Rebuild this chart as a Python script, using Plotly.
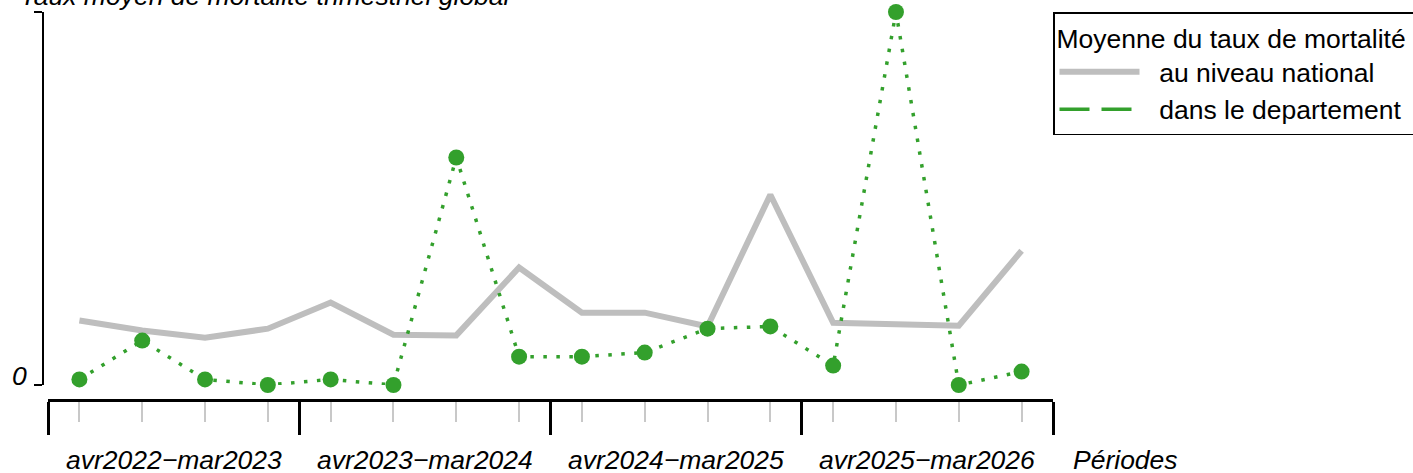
import plotly.graph_objects as go

# ---- data ----
quarters = list(range(1, 17))
periods = ["avr2022\u2212mar2023", "avr2023\u2212mar2024", "avr2024\u2212mar2025", "avr2025\u2212mar2026"]
period_centers = [2.5, 6.5, 10.5, 14.5]
national = [0.173, 0.146, 0.127, 0.151, 0.221, 0.135, 0.133, 0.315,
            0.194, 0.194, 0.157, 0.510, 0.167, 0.162, 0.159, 0.360]
departement = [0.015, 0.119, 0.015, 0.0, 0.015, 0.0, 0.610, 0.076,
               0.076, 0.087, 0.151, 0.157, 0.052, 1.0, 0.0, 0.036]
group_bounds = [0.5, 4.5, 8.5, 12.5, 16.5]

GREEN = "#33A02C"
GRAY = "#BEBEBE"
FONT = "Liberation Sans, Arial, sans-serif"
FS = 26.5
NB = "\u00a0"

W, H = 1413, 473
ML, MR, MT, MB = 43, 360, 12, 73
PW = W - ML - MR
PH = H - MT - MB

fig = go.Figure()
fig.add_trace(go.Scatter(x=quarters, y=national, mode="lines",
                         line=dict(color=GRAY, width=6),
                         name=NB * 2 + "au niveau national", cliponaxis=False))
fig.add_trace(go.Scatter(x=quarters, y=departement, mode="lines+markers",
                         line=dict(color=GREEN, width=3.5, dash="3.5px,9.5px"),
                         marker=dict(color=GREEN, size=16),
                         showlegend=False, cliponaxis=False))
fig.add_trace(go.Scatter(x=[None], y=[None], mode="lines",
                         line=dict(color=GREEN, width=3.5, dash="30px,12px"),
                         name=NB * 2 + "dans le departement"))

fig.update_layout(
    width=W, height=H,
    margin=dict(l=ML, r=MR, t=MT, b=MB, pad=0, autoexpand=False),
    plot_bgcolor="white", paper_bgcolor="white",
    font=dict(family=FONT, size=FS, color="black"),
    xaxis=dict(domain=[5 / PW, 1], range=[0.5, 16.5], anchor="free", position=0,
               showline=True, linecolor="black", linewidth=3,
               ticks="outside", tickvals=group_bounds, ticklen=33, tickwidth=3,
               tickcolor="black", showticklabels=False, showgrid=False, zeroline=False,
               minor=dict(ticks="outside", tickmode="array", tickvals=quarters,
                          ticklen=20, tickwidth=2, tickcolor="#C8C8C8", showgrid=False)),
    yaxis=dict(domain=[15 / PH, 1], range=[0, 1], anchor="free", position=0,
               showline=True, linecolor="black", linewidth=2,
               ticks="outside", tickvals=[0, 1], ticktext=["0", ""], ticklen=8,
               tickwidth=2, tickcolor="black", showgrid=False, zeroline=False,
               tickfont=dict(family=FONT, size=FS, style="italic"),
               ticklabelstandoff=2, ticklabelshift=-9),
    legend=dict(x=(1053 - ML) / PW, xanchor="left", y=1.0, yanchor="top",
                bordercolor="black", borderwidth=1.5, bgcolor="white",
                font=dict(family=FONT, size=FS),
                title=dict(text="Moyenne du taux de mortalité" + NB * 6,
                           font=dict(family=FONT, size=FS)),
                itemwidth=80, tracegroupgap=0),
)

for name, cx in zip(periods, period_centers):
    fig.add_annotation(x=cx, xref="x", y=-60 / PH, yref="paper", text=name,
                       showarrow=False, xanchor="center", yanchor="middle",
                       font=dict(family=FONT, size=FS, style="italic"))

fig.add_annotation(x=(1071 - ML) / PW, xref="paper", y=-60 / PH, yref="paper",
                   text="Périodes", showarrow=False, xanchor="left", yanchor="middle",
                   font=dict(family=FONT, size=FS, style="italic"))
fig.add_annotation(x=(18 - ML) / PW, xref="paper", y=(PH + MT + 4) / PH, yref="paper",
                   text="Taux moyen de mortalité trimestriel global", showarrow=False,
                   xanchor="left", yanchor="middle",
                   font=dict(family=FONT, size=FS, style="italic"))

fig.write_html("out.html", config={"displayModeBar": False},
               post_script="document.body.style.margin='0px';document.body.style.overflow='hidden';")
